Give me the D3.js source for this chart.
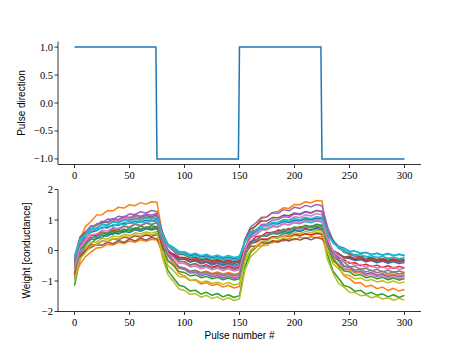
<!DOCTYPE html>
<html>
<head>
<meta charset="utf-8">
<script src="https://cdn.jsdelivr.net/npm/d3@7.9.0/dist/d3.min.js"></script>
<style>
  html, body { margin: 0; padding: 0; background: #fff; }
  svg text.tick-label { font-family: "Liberation Serif", "DejaVu Serif", serif; font-size: 10.5px; fill: #000; }
  svg text.axis-label { font-family: "Liberation Sans", Arial, sans-serif; font-size: 10px; fill: #000; }
</style>
</head>
<body>
<svg id="chart" width="467" height="350"></svg>
<script>
// pulse direction (top panel): step signal
const directionPulse = [0, 74, 75, 149, 150, 224, 225, 300];
const directionValue = [1, 1, -1, -1, 1, 1, -1, -1];

// weights sampled every 5 pulses, 0..300 (bottom panel), one array per device
const samplePulses = d3.range(0, 301, 5);

const w00 = [-0.5, 0.2, 0.41, 0.6, 0.65, 0.76, 0.74, 0.84, 0.83, 0.9, 0.89, 0.96, 0.93, 0.99, 0.96, 1.02,
  0.52, 0.2, 0.08, -0.07, -0.08, -0.17, -0.13, -0.21, -0.17, -0.24, -0.2, -0.26, -0.21, -0.28, -0.24,
  0.31, 0.58, 0.66, 0.79, 0.8, 0.88, 0.87, 0.95, 0.92, 0.99, 0.97, 1.04, 1.0, 1.06, 1.05,
  0.55, 0.33, 0.13, 0.08, -0.03, -0.02, -0.09, -0.06, -0.13, -0.09, -0.15, -0.1, -0.16, -0.12, -0.17];
const w01 = [-0.6, 0.36, 0.79, 0.95, 1.16, 1.17, 1.31, 1.3, 1.42, 1.39, 1.5, 1.47, 1.57, 1.52, 1.6, 1.58,
  0.5, -0.16, -0.47, -0.75, -0.83, -0.98, -0.97, -1.1, -1.05, -1.15, -1.1, -1.2, -1.14, -1.23, -1.18,
  0.05, 0.6, 0.82, 1.05, 1.11, 1.25, 1.28, 1.4, 1.38, 1.51, 1.5, 1.6, 1.56, 1.64, 1.62,
  0.45, -0.2, -0.53, -0.83, -0.92, -1.07, -1.05, -1.19, -1.14, -1.25, -1.2, -1.31, -1.24, -1.33, -1.28];
const w02 = [-1.15, -0.3, 0.09, 0.22, 0.4, 0.42, 0.55, 0.53, 0.65, 0.6, 0.75, 0.7, 0.8, 0.74, 0.81, 0.78,
  -0.1, -0.66, -0.9, -1.14, -1.19, -1.33, -1.3, -1.43, -1.37, -1.47, -1.41, -1.52, -1.45, -1.54, -1.48,
  -0.52, -0.07, 0.1, 0.29, 0.32, 0.45, 0.44, 0.57, 0.53, 0.66, 0.62, 0.72, 0.67, 0.76, 0.73,
  -0.13, -0.67, -0.91, -1.15, -1.2, -1.34, -1.3, -1.43, -1.37, -1.47, -1.42, -1.52, -1.45, -1.54, -1.47];
const w03 = [-0.3, 0.2, 0.33, 0.49, 0.5, 0.6, 0.56, 0.66, 0.62, 0.7, 0.66, 0.74, 0.7, 0.76, 0.72, 0.77,
  0.25, -0.08, -0.2, -0.36, -0.37, -0.47, -0.43, -0.52, -0.47, -0.55, -0.49, -0.58, -0.51, -0.59, -0.53,
  0.08, 0.27, 0.45, 0.48, 0.59, 0.58, 0.67, 0.64, 0.72, 0.69, 0.78, 0.73, 0.8, 0.77, 0.82,
  0.24, -0.02, -0.24, -0.3, -0.42, -0.4, -0.5, -0.45, -0.53, -0.48, -0.56, -0.5, -0.58, -0.52, -0.57];
const w04 = [-0.8, 0.12, 0.53, 0.68, 0.88, 0.89, 1.03, 1.02, 1.12, 1.09, 1.2, 1.18, 1.27, 1.23, 1.31, 1.28,
  0.6, 0.15, -0.02, -0.22, -0.25, -0.37, -0.34, -0.44, -0.39, -0.48, -0.43, -0.51, -0.45, -0.53, -0.48,
  0.37, 0.77, 0.91, 1.09, 1.1, 1.24, 1.22, 1.34, 1.3, 1.42, 1.38, 1.48, 1.43, 1.51, 1.47,
  0.78, 0.33, 0.14, -0.07, -0.1, -0.21, -0.19, -0.29, -0.24, -0.33, -0.28, -0.36, -0.3, -0.38, -0.33];
const w05 = [-0.2, 0.44, 0.61, 0.8, 0.82, 0.94, 0.92, 1.02, 0.99, 1.07, 1.03, 1.13, 1.08, 1.15, 1.11, 1.17,
  0.57, 0.19, 0.05, -0.13, -0.14, -0.25, -0.22, -0.3, -0.26, -0.34, -0.29, -0.37, -0.31, -0.38, -0.33,
  0.36, 0.7, 0.81, 0.97, 0.97, 1.08, 1.07, 1.16, 1.14, 1.23, 1.2, 1.28, 1.24, 1.31, 1.28,
  0.64, 0.34, 0.07, 0.0, -0.14, -0.13, -0.22, -0.19, -0.27, -0.22, -0.3, -0.25, -0.31, -0.27, -0.32];
const w06 = [-0.9, 0.08, 0.37, 0.64, 0.71, 0.85, 0.86, 0.98, 0.96, 1.06, 1.04, 1.15, 1.11, 1.19, 1.15, 1.22,
  0.4, -0.1, -0.31, -0.53, -0.57, -0.7, -0.68, -0.78, -0.74, -0.82, -0.78, -0.86, -0.8, -0.88, -0.83,
  0.04, 0.45, 0.6, 0.78, 0.8, 0.92, 0.92, 1.02, 1.0, 1.11, 1.08, 1.17, 1.13, 1.21, 1.17,
  0.38, -0.13, -0.35, -0.57, -0.62, -0.74, -0.72, -0.83, -0.78, -0.87, -0.82, -0.91, -0.85, -0.93, -0.88];
const w07 = [-0.4, 0.3, 0.5, 0.71, 0.74, 0.86, 0.84, 0.95, 0.92, 1.01, 0.98, 1.07, 1.03, 1.1, 1.06, 1.12,
  0.44, 0.02, -0.15, -0.34, -0.37, -0.48, -0.45, -0.54, -0.5, -0.58, -0.54, -0.61, -0.56, -0.63, -0.58,
  0.09, 0.42, 0.52, 0.68, 0.69, 0.79, 0.78, 0.87, 0.84, 0.93, 0.9, 0.98, 0.94, 1.01, 0.98,
  0.3, -0.03, -0.3, -0.38, -0.53, -0.52, -0.61, -0.58, -0.66, -0.62, -0.7, -0.65, -0.71, -0.67, -0.72];
const w08 = [-0.7, -0.08, 0.08, 0.27, 0.28, 0.4, 0.37, 0.48, 0.44, 0.53, 0.49, 0.58, 0.54, 0.61, 0.57, 0.62,
  -0.25, -0.79, -1.02, -1.26, -1.31, -1.44, -1.41, -1.53, -1.47, -1.57, -1.52, -1.62, -1.55, -1.64, -1.58,
  -0.64, -0.21, -0.04, 0.15, 0.17, 0.3, 0.31, 0.41, 0.38, 0.5, 0.47, 0.56, 0.52, 0.6, 0.57,
  -0.3, -0.74, -1.08, -1.2, -1.37, -1.38, -1.48, -1.46, -1.55, -1.5, -1.59, -1.55, -1.63, -1.57, -1.62];
const w09 = [-0.2, 0.3, 0.54, 0.6, 0.73, 0.72, 0.81, 0.79, 0.87, 0.84, 0.91, 0.88, 0.95, 0.91, 0.97, 0.94,
  0.51, 0.21, 0.11, -0.03, -0.04, -0.13, -0.09, -0.17, -0.12, -0.2, -0.15, -0.22, -0.16, -0.23, -0.18,
  0.29, 0.54, 0.61, 0.73, 0.72, 0.81, 0.79, 0.87, 0.84, 0.91, 0.88, 0.95, 0.91, 0.97, 0.93,
  0.49, 0.29, 0.1, 0.07, -0.05, -0.02, -0.1, -0.07, -0.14, -0.09, -0.16, -0.11, -0.17, -0.12, -0.16];
const w10 = [-0.6, 0.02, 0.19, 0.37, 0.38, 0.5, 0.47, 0.58, 0.54, 0.63, 0.59, 0.68, 0.63, 0.71, 0.67, 0.72,
  0.26, -0.04, -0.13, -0.28, -0.29, -0.38, -0.34, -0.42, -0.37, -0.45, -0.4, -0.47, -0.41, -0.48, -0.43,
  0.04, 0.29, 0.35, 0.48, 0.47, 0.56, 0.54, 0.62, 0.59, 0.66, 0.63, 0.7, 0.66, 0.72, 0.68,
  0.28, 0.0, -0.1, -0.24, -0.26, -0.33, -0.3, -0.37, -0.33, -0.4, -0.35, -0.42, -0.37, -0.43, -0.39];
const w11 = [-0.9, -0.45, -0.2, -0.05, 0.08, 0.1, 0.2, 0.18, 0.27, 0.23, 0.31, 0.27, 0.35, 0.3, 0.37, 0.34,
  -0.07, -0.36, -0.45, -0.59, -0.6, -0.68, -0.65, -0.72, -0.68, -0.75, -0.7, -0.77, -0.72, -0.78, -0.74,
  -0.25, -0.03, 0.13, 0.16, 0.26, 0.25, 0.34, 0.31, 0.38, 0.35, 0.43, 0.39, 0.45, 0.42, 0.47,
  -0.03, -0.35, -0.47, -0.62, -0.63, -0.72, -0.69, -0.77, -0.73, -0.8, -0.75, -0.82, -0.77, -0.83, -0.79];
const w12 = [-0.5, 0.09, 0.25, 0.43, 0.45, 0.56, 0.53, 0.63, 0.6, 0.69, 0.65, 0.73, 0.69, 0.76, 0.72, 0.77,
  0.09, -0.33, -0.5, -0.69, -0.72, -0.83, -0.8, -0.89, -0.85, -0.93, -0.88, -0.96, -0.9, -0.97, -0.93,
  -0.17, 0.2, 0.32, 0.48, 0.5, 0.61, 0.6, 0.7, 0.68, 0.77, 0.74, 0.83, 0.78, 0.86, 0.83,
  0.15, -0.3, -0.47, -0.67, -0.7, -0.82, -0.79, -0.89, -0.85, -0.93, -0.88, -0.96, -0.9, -0.97, -0.93];
const w13 = [-0.75, -0.16, 0.0, 0.18, 0.2, 0.31, 0.29, 0.39, 0.35, 0.44, 0.4, 0.48, 0.44, 0.51, 0.47, 0.52,
  0.18, -0.06, -0.11, -0.23, -0.23, -0.3, -0.27, -0.34, -0.29, -0.35, -0.31, -0.37, -0.32, -0.38, -0.34,
  0.03, 0.24, 0.27, 0.38, 0.37, 0.45, 0.42, 0.49, 0.46, 0.53, 0.49, 0.55, 0.51, 0.56, 0.53,
  0.21, -0.04, -0.1, -0.23, -0.22, -0.3, -0.27, -0.33, -0.29, -0.35, -0.31, -0.37, -0.32, -0.38, -0.34];
const w14 = [-0.35, 0.38, 0.58, 0.8, 0.83, 0.96, 0.94, 1.05, 1.02, 1.12, 1.08, 1.17, 1.12, 1.2, 1.16, 1.22,
  0.38, -0.13, -0.35, -0.57, -0.62, -0.74, -0.72, -0.83, -0.78, -0.87, -0.82, -0.91, -0.85, -0.92, -0.88,
  0.06, 0.49, 0.65, 0.85, 0.87, 1.0, 1.01, 1.11, 1.09, 1.2, 1.17, 1.26, 1.22, 1.31, 1.27,
  0.46, -0.06, -0.28, -0.51, -0.56, -0.69, -0.67, -0.77, -0.72, -0.82, -0.77, -0.86, -0.8, -0.87, -0.83];
const w15 = [-0.8, -0.22, -0.02, 0.1, 0.19, 0.17, 0.27, 0.22, 0.33, 0.26, 0.38, 0.31, 0.41, 0.34, 0.43, 0.38,
  0.1, -0.13, -0.17, -0.29, -0.27, -0.36, -0.31, -0.39, -0.34, -0.41, -0.35, -0.42, -0.36, -0.43, -0.38,
  -0.07, 0.13, 0.15, 0.26, 0.23, 0.32, 0.27, 0.36, 0.31, 0.39, 0.34, 0.42, 0.35, 0.43, 0.38,
  0.14, -0.06, -0.1, -0.21, -0.19, -0.27, -0.22, -0.3, -0.24, -0.31, -0.26, -0.32, -0.27, -0.33, -0.28];
const w16 = [-0.6, 0.1, 0.3, 0.51, 0.54, 0.66, 0.64, 0.75, 0.72, 0.81, 0.78, 0.87, 0.83, 0.9, 0.86, 0.92,
  0.3, -0.09, -0.23, -0.42, -0.43, -0.54, -0.51, -0.6, -0.55, -0.63, -0.58, -0.66, -0.6, -0.67, -0.63,
  0.06, 0.4, 0.51, 0.67, 0.68, 0.78, 0.77, 0.87, 0.84, 0.93, 0.9, 0.98, 0.94, 1.01, 0.97,
  0.38, -0.02, -0.17, -0.36, -0.38, -0.49, -0.46, -0.55, -0.5, -0.58, -0.53, -0.61, -0.55, -0.62, -0.58];
const w17 = [-0.95, -0.09, 0.17, 0.41, 0.45, 0.6, 0.58, 0.71, 0.68, 0.79, 0.75, 0.86, 0.8, 0.9, 0.85, 0.92,
  0.24, -0.18, -0.35, -0.54, -0.57, -0.68, -0.65, -0.74, -0.7, -0.78, -0.74, -0.81, -0.76, -0.83, -0.78,
  -0.11, 0.22, 0.32, 0.48, 0.49, 0.59, 0.58, 0.67, 0.64, 0.73, 0.7, 0.78, 0.74, 0.81, 0.77,
  0.2, -0.19, -0.33, -0.52, -0.53, -0.64, -0.61, -0.7, -0.65, -0.73, -0.68, -0.76, -0.7, -0.77, -0.73];
const w18 = [-1.0, -0.27, -0.07, 0.16, 0.18, 0.31, 0.29, 0.4, 0.37, 0.47, 0.43, 0.52, 0.47, 0.56, 0.51, 0.57,
  -0.09, -0.5, -0.66, -0.85, -0.87, -0.98, -0.95, -1.05, -1.0, -1.08, -1.04, -1.11, -1.05, -1.13, -1.08,
  -0.34, 0.02, 0.13, 0.3, 0.31, 0.42, 0.41, 0.51, 0.48, 0.58, 0.55, 0.63, 0.58, 0.66, 0.62,
  -0.01, -0.43, -0.6, -0.79, -0.82, -0.93, -0.9, -0.99, -0.95, -1.03, -0.99, -1.06, -1.0, -1.07, -1.03];
const w19 = [-0.25, 0.36, 0.53, 0.72, 0.73, 0.85, 0.83, 0.93, 0.9, 0.99, 0.95, 1.03, 0.98, 1.06, 1.02, 1.07,
  0.53, 0.18, 0.06, -0.1, -0.11, -0.21, -0.18, -0.26, -0.22, -0.29, -0.24, -0.31, -0.26, -0.32, -0.28,
  0.3, 0.6, 0.68, 0.82, 0.83, 0.92, 0.91, 0.99, 0.96, 1.05, 1.01, 1.09, 1.04, 1.11, 1.08,
  0.58, 0.23, 0.11, -0.05, -0.06, -0.16, -0.13, -0.21, -0.17, -0.24, -0.19, -0.26, -0.21, -0.27, -0.23];

const weights = [w00, w01, w02, w03, w04, w05, w06, w07, w08, w09,
  w10, w11, w12, w13, w14, w15, w16, w17, w18, w19];

const xTicks = [0, 50, 100, 150, 200, 250, 300];
const topYTicks = [-1, -0.5, 0, 0.5, 1];
const bottomYTicks = [-2, -1, 0, 1, 2];

const svg = d3.select('#chart');
const colors = d3.scaleOrdinal(d3.schemeCategory10);
const minus = s => s.replace('-', '\u2212');

const x = d3.scaleLinear().domain([-15, 315]).range([58, 421]);
const yTop = d3.scaleLinear().domain([-1.1, 1.1]).range([164.5, 41.5]);
const yBot = d3.scaleLinear().domain([-2, 2]).range([311.5, 189.5]);

function drawAxes(y, yTicks, yFormat, yLabel, labelX) {
  let top = y.range()[1], bottom = y.range()[0];
  let g = svg.append('g');
  // spines (left and bottom only)
  g.append('line').attr('x1', x.range()[0]).attr('x2', x.range()[0])
    .attr('y1', top).attr('y2', bottom).attr('stroke', '#000').attr('stroke-width', 0.8);
  g.append('line').attr('x1', x.range()[0]).attr('x2', x.range()[1])
    .attr('y1', bottom).attr('y2', bottom).attr('stroke', '#000').attr('stroke-width', 0.8);

  xTicks.forEach(t => {
    g.append('line').attr('x1', x(t)).attr('x2', x(t)).attr('y1', bottom).attr('y2', bottom + 3.5)
      .attr('stroke', '#000').attr('stroke-width', 0.8);
    g.append('text').attr('class', 'tick-label').attr('x', x(t)).attr('y', bottom + 14.5)
      .attr('text-anchor', 'middle').text(t);
  });
  yTicks.forEach(t => {
    g.append('line').attr('x1', x.range()[0] - 3.5).attr('x2', x.range()[0]).attr('y1', y(t)).attr('y2', y(t))
      .attr('stroke', '#000').attr('stroke-width', 0.8);
    g.append('text').attr('class', 'tick-label').attr('x', x.range()[0] - 5).attr('y', y(t) + 3.5)
      .attr('text-anchor', 'end').text(minus(yFormat(t)));
  });
  g.append('text').attr('class', 'axis-label')
    .attr('transform', `translate(${labelX},${(top + bottom) / 2}) rotate(-90)`)
    .attr('text-anchor', 'middle').text(yLabel);
}

// top panel
drawAxes(yTop, topYTicks, d3.format('.1f'), 'Pulse direction', 25);
svg.append('path')
  .datum(directionValue)
  .attr('fill', 'none')
  .attr('stroke', colors(0))
  .attr('stroke-width', 1.5)
  .attr('d', d3.line().x((d, i) => x(directionPulse[i])).y(d => yTop(d)));

// bottom panel
drawAxes(yBot, bottomYTicks, d3.format('d'), 'Weight [conductance]', 30);
let line = d3.line().x((d, i) => x(samplePulses[i])).y(d => yBot(d));
weights.forEach((w, i) => {
  svg.append('path')
    .datum(w)
    .attr('fill', 'none')
    .attr('stroke', colors(i % 10))
    .attr('stroke-width', 1.5)
    .attr('stroke-linejoin', 'round')
    .attr('d', line);
});

svg.append('text').attr('class', 'axis-label')
  .attr('x', (x.range()[0] + x.range()[1]) / 2).attr('y', 339)
  .attr('text-anchor', 'middle').text('Pulse number #');
</script>
</body>
</html>
